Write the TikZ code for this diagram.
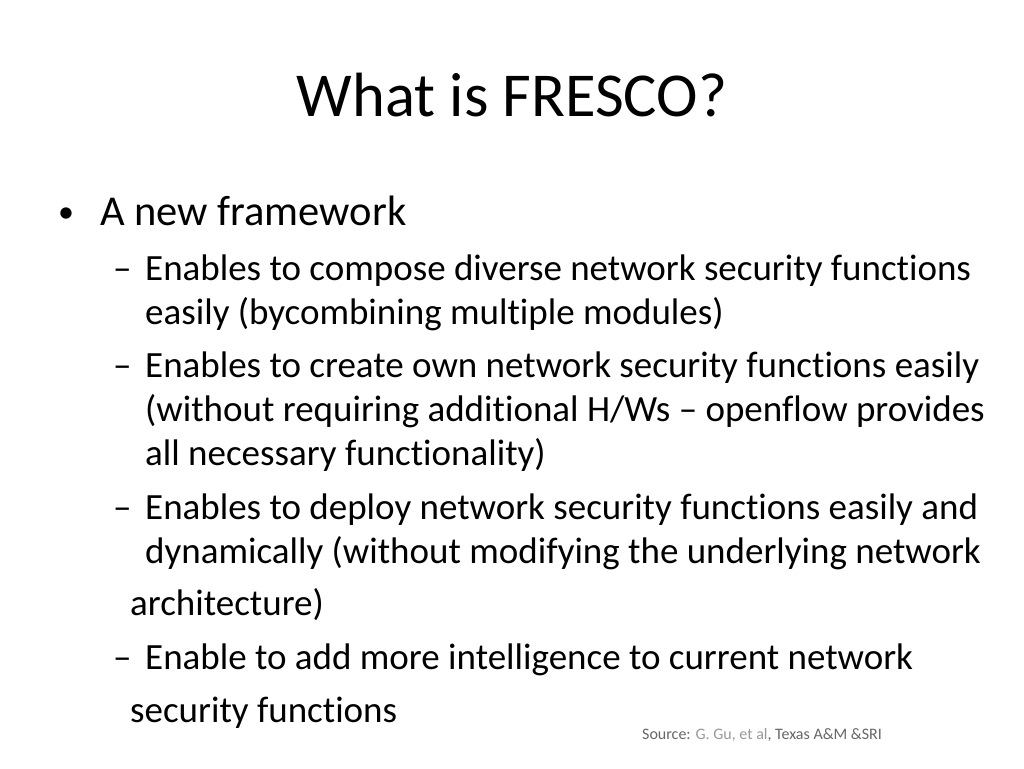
\documentclass[tikz,border=0pt]{standalone}
\usepackage{fontspec}
\setmainfont{Carlito}[Ligatures=NoCommon]
\begin{document}
\begin{tikzpicture}[x=1pt,y=-1pt,
  t/.style={anchor=base west,inner sep=0pt,font=\fontsize{37}{42}\selectfont},
  b/.style={anchor=base west,inner sep=0pt,font=\fontsize{42.5}{48}\selectfont}]
\useasboundingbox (0,0) rectangle (1024,768);
\node[anchor=base,inner sep=0pt,font=\fontsize{62.5}{70}\selectfont] (title) at (512,116) {What is FRESCO?};
\node[b,font=\fontsize{32}{38}\selectfont] (bul) at (58,222) {•};
\node[b] (l0) at (100,225) {A new framework};
\node[t] (d1) at (113,280) {–};
\node[t] (l1) at (145,280) {Enables to compose diverse network security functions};
\node[t] (l2) at (145,324) {easily (bycombining multiple modules)};
\node[t] (d2) at (113,377) {–};
\node[t] (l3) at (145,377) {Enables to create own network security functions easily};
\node[t] (l4) at (145,421) {(without requiring additional H/Ws – openflow provides};
\node[t] (l5) at (145,465) {all necessary functionality)};
\node[t] (d3) at (113,519) {–};
\node[t] (l6) at (145,519) {Enables to deploy network security functions easily and};
\node[t] (l7) at (145,563) {dynamically (without modifying the underlying network};
\node[t] (l8) at (130,615) {architecture)};
\node[t] (d4) at (113,669) {–};
\node[t] (l9) at (145,669) {Enable to add more intelligence to current network};
\node[t] (l10) at (130,722) {security functions};
\node[anchor=base west,inner sep=0pt,font=\fontsize{16}{18}\selectfont] (src) at (642,739)
  {\textcolor{black!60}{Source:} \textcolor{black!40}{G. Gu, et al}\textcolor{black!60}{, Texas A\&M \&SRI}};
\end{tikzpicture}
\end{document}
